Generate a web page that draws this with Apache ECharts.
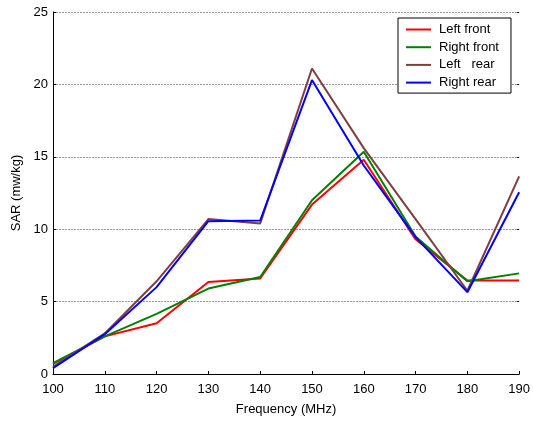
<!DOCTYPE html>
<html>
<head>
<meta charset="utf-8">
<script src="https://cdn.jsdelivr.net/npm/echarts@6/dist/echarts.min.js"></script>
<style>
  html, body { margin: 0; padding: 0; background: #fff; }
  #chart { width: 533px; height: 421px; }
</style>
</head>
<body>
<div id="chart"></div>
<script>
// Frequency sweep (MHz) and SAR readings (mW/kg) for each antenna position
const frequencies = [100, 110, 120, 130, 140, 150, 160, 170, 180, 190];
const leftFront  = [0.70, 2.60, 3.50, 6.35, 6.60, 11.70, 14.80, 9.30, 6.45, 6.45];
const rightFront = [0.75, 2.60, 4.15, 5.90, 6.70, 12.00, 15.35, 9.50, 6.40, 6.95];
const leftRear   = [0.50, 2.80, 6.40, 10.70, 10.40, 21.10, 15.60, 10.70, 5.75, 13.65];
const rightRear  = [0.40, 2.75, 6.00, 10.55, 10.60, 20.30, 14.40, 9.45, 5.65, 12.55];

const seriesNames = ['Left front', 'Right front', 'Left   rear', 'Right rear'];
const seriesColors = ['#ff0000', '#008000', '#7f3f3f', '#0000ff'];
const seriesValues = [leftFront, rightFront, leftRear, rightRear];

const yTicks = [0, 5, 10, 15, 20, 25];

const font = 'Liberation Sans, Arial, sans-serif';

const chart = echarts.init(document.getElementById('chart'), null, { renderer: 'canvas' });

const series = seriesNames.map((name, i) => ({
  name: name,
  type: 'line',
  data: frequencies.map((f, j) => [f, seriesValues[i][j]]),
  symbol: 'none',
  smooth: false,
  lineStyle: { color: seriesColors[i], width: 2 },
  itemStyle: { color: seriesColors[i] },
  yAxisIndex: 0
}));

chart.setOption({
  animation: false,
  backgroundColor: '#ffffff',
  grid: { left: 53, right: 11, top: 12, bottom: 40, containLabel: false },
  legend: {
    orient: 'vertical',
    left: 398,
    top: 18,
    itemWidth: 25,
    itemHeight: 12,
    itemGap: 4.7,
    padding: [5, 12, 4, 8],
    borderColor: '#000',
    borderWidth: 1,
    backgroundColor: '#fff',
    icon: 'path://M0,5 L25,5 L25,7 L0,7 Z',
    textStyle: { fontFamily: font, fontSize: 13, color: '#000', padding: [0, 0, 0, 3] },
    data: seriesNames
  },
  xAxis: {
    type: 'value',
    min: 100,
    max: 190,
    interval: 10,
    name: 'Frequency (MHz)',
    nameLocation: 'middle',
    nameGap: 29,
    nameTextStyle: { fontFamily: font, fontSize: 13, color: '#000' },
    axisLine: { show: true, lineStyle: { color: '#000', width: 1 } },
    axisTick: { show: true, inside: true, length: 3, lineStyle: { color: '#000' } },
    axisLabel: { fontFamily: font, fontSize: 13, color: '#000', margin: 9 },
    splitLine: { show: false }
  },
  yAxis: [
    {
      type: 'value',
      min: yTicks[0],
      max: yTicks[yTicks.length - 1],
      interval: 5,
      name: 'SAR (mw/kg)',
      nameLocation: 'middle',
      nameGap: 24,
      nameTextStyle: { fontFamily: font, fontSize: 13, color: '#000' },
      axisLine: { show: true, lineStyle: { color: '#000', width: 1 } },
      axisTick: { show: true, inside: true, length: 3, lineStyle: { color: '#000' } },
      axisLabel: { fontFamily: font, fontSize: 13, color: '#000', margin: 5 },
      splitLine: { show: true, lineStyle: { color: '#999', type: [2, 1], width: 1 } }
    },
    {
      type: 'value',
      position: 'right',
      min: yTicks[0],
      max: yTicks[yTicks.length - 1],
      interval: 5,
      axisLine: { show: false },
      axisTick: { show: true, inside: true, length: 2, lineStyle: { color: '#000' } },
      axisLabel: { show: false },
      splitLine: { show: false }
    }
  ],
  series: series
});
</script>
</body>
</html>
